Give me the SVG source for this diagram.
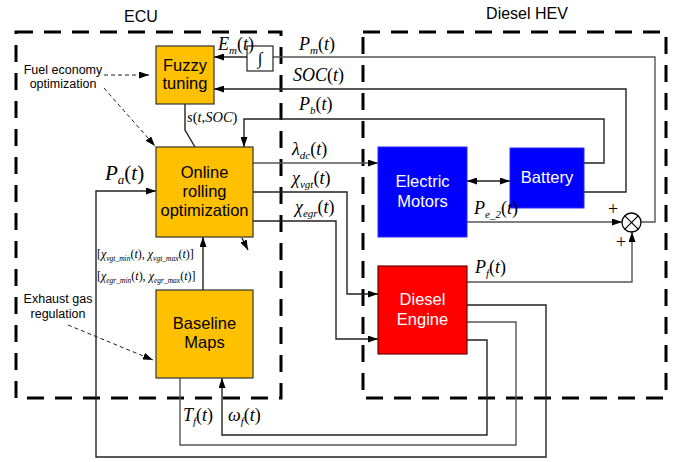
<svg xmlns="http://www.w3.org/2000/svg" width="683" height="462" viewBox="0 0 683 462">
<style>
.bg{fill:#fff}
.dash{fill:none;stroke:#000;stroke-width:3;stroke-dasharray:17 11}
.ob{fill:#FFC000;stroke:#333;stroke-width:1.2}
.bb{fill:#0000FF;stroke:#2a2aff;stroke-width:1}
.rb{fill:#FF0000;stroke:#700000;stroke-width:1.2}
.ln{fill:none;stroke:#222;stroke-width:1.4}
.gl{fill:none;stroke:#555;stroke-width:1.4}
.da{fill:none;stroke:#222;stroke-width:1;stroke-dasharray:4 3}
.t{font-family:"Liberation Sans",Arial,sans-serif;font-size:16.5px;text-anchor:middle;fill:#000}
.w{fill:#fff}
.a{font-family:"Liberation Sans",Arial,sans-serif;font-size:12.5px;text-anchor:middle;fill:#000}
.h{font-family:"Liberation Sans",Arial,sans-serif;font-size:16px;text-anchor:middle;fill:#000}
.m{font-family:"Liberation Serif","Times New Roman",serif;font-style:italic;font-size:18px;fill:#000}
.n{font-style:normal}
.s{font-size:11px}
.k{font-family:"Liberation Serif","Times New Roman",serif;font-style:italic;font-size:12px;fill:#000}
.ks{font-size:7.5px}
</style>
<defs>
<marker id="ar" viewBox="0 0 10 7" refX="10" refY="3.5" markerWidth="10" markerHeight="7" markerUnits="userSpaceOnUse" orient="auto-start-reverse">
<path d="M0,0 L10,3.5 L0,7 z" fill="#000"/>
</marker>
</defs>
<rect class="bg" x="0" y="0" width="683" height="462"/>

<g id="ecu-frame">
<rect class="dash" x="16" y="32" width="265" height="366"/>
<text class="h" x="141" y="22">ECU</text>
</g>
<g id="hev-frame">
<rect class="dash" x="363" y="32" width="303" height="366"/>
<text class="h" x="527" y="19">Diesel HEV</text>
</g>

<g id="connectors">
<polyline class="gl" points="641,222 655,222 655,57 273,57"/>
<line class="ln" x1="247" y1="57" x2="214" y2="57" marker-end="url(#ar)"/>
<polyline class="ln" points="584,192 626,192 626,89 214,89" marker-end="url(#ar)"/>
<polyline class="ln" points="584,163 604,163 604,119 244,119 244,147" marker-end="url(#ar)"/>
<polyline class="ln" points="185,104 185,130 195,147"/>
<line class="da" x1="104" y1="75" x2="149" y2="75" marker-end="url(#ar)"/>
<line class="da" x1="104" y1="88" x2="155" y2="146" marker-end="url(#ar)"/>
<line class="da" x1="68" y1="325" x2="153" y2="360" marker-end="url(#ar)"/>
<line class="gl" x1="253" y1="163" x2="378" y2="163" marker-end="url(#ar)"/>
<polyline class="ln" points="253,192 347,192 347,294 378,294" marker-end="url(#ar)"/>
<polyline class="ln" points="253,221 336,221 336,339 378,339" marker-end="url(#ar)"/>
<line class="ln" x1="242" y1="238" x2="248" y2="250" marker-end="url(#ar)"/>
<line class="ln" x1="203" y1="290" x2="203" y2="237" marker-end="url(#ar)"/>
<polyline class="ln" points="467,305 546,305 546,457 96,457 96,191 156,191" marker-end="url(#ar)"/>
<polyline class="gl" points="180,378 180,445 516,445 516,322 467,322"/>
<polyline class="ln" points="467,340 487,340 487,435 222,435 222,378" marker-end="url(#ar)"/>
<line class="ln" x1="467" y1="181" x2="510" y2="181" marker-start="url(#ar)" marker-end="url(#ar)"/>
<line class="gl" x1="467" y1="222" x2="622" y2="222" marker-end="url(#ar)"/>
<polyline class="gl" points="467,282 632,282 632,232" marker-end="url(#ar)"/>
</g>

<g id="integrator">
<rect x="247" y="46" width="26" height="25" fill="#fff" stroke="#222" stroke-width="1.2"/>
<text x="260" y="64" font-family="Liberation Serif,serif" font-size="17" text-anchor="middle">∫</text>
</g>

<g id="sum">
<circle cx="631.5" cy="222.5" r="9.5" fill="#fff" stroke="#000" stroke-width="1.3"/>
<line x1="624.8" y1="215.8" x2="638.2" y2="229.2" stroke="#000" stroke-width="1.2"/>
<line x1="638.2" y1="215.8" x2="624.8" y2="229.2" stroke="#000" stroke-width="1.2"/>
<text class="m n" x="613" y="215" text-anchor="middle">+</text>
<text class="m n" x="621" y="248" text-anchor="middle">+</text>
</g>

<g id="fuzzy">
<rect class="ob" x="156" y="46" width="58" height="58"/>
<text class="t" x="185" y="71">Fuzzy</text>
<text class="t" x="185" y="89">tuning</text>
</g>

<g id="online">
<rect class="ob" x="156" y="147" width="97" height="90"/>
<text class="t" x="204.5" y="178">Online</text>
<text class="t" x="204.5" y="197">rolling</text>
<text class="t" x="204.5" y="216">optimization</text>
</g>

<g id="baseline">
<rect class="ob" x="156" y="290" width="97" height="88"/>
<text class="t" x="204.5" y="329">Baseline</text>
<text class="t" x="204.5" y="348">Maps</text>
</g>

<g id="motors">
<rect class="bb" x="378" y="147" width="89" height="90"/>
<text class="t w" x="422.5" y="187">Electric</text>
<text class="t w" x="422.5" y="207">Motors</text>
</g>

<g id="battery">
<rect class="bb" x="510" y="148" width="74" height="60"/>
<text class="t w" x="547" y="183">Battery</text>
</g>

<g id="engine">
<rect class="rb" x="378" y="266" width="89" height="88"/>
<text class="t w" x="422.5" y="305">Diesel</text>
<text class="t w" x="422.5" y="325">Engine</text>
</g>

<g id="annotations">
<text class="a" x="63" y="74">Fuel economy</text>
<text class="a" x="63" y="88">optimization</text>
<text class="a" x="58" y="303">Exhaust gas</text>
<text class="a" x="58" y="318">regulation</text>
</g>

<g id="labels">
<text class="m" x="218" y="50">E<tspan class="s" dy="4">m</tspan><tspan class="n" dy="-4">(</tspan>t<tspan class="n">)</tspan></text>
<text class="m" x="299" y="50">P<tspan class="s" dy="4">m</tspan><tspan class="n" dy="-4">(</tspan>t<tspan class="n">)</tspan></text>
<text class="m" x="293" y="81">SOC<tspan class="n">(</tspan>t<tspan class="n">)</tspan></text>
<text class="m" x="299" y="110">P<tspan class="s" dy="4">b</tspan><tspan class="n" dy="-4">(</tspan>t<tspan class="n">)</tspan></text>
<text class="m" x="187" y="122" style="font-size:14.5px">s<tspan class="n">(</tspan>t,SOC<tspan class="n">)</tspan></text>
<text class="m" x="292" y="155">λ<tspan class="s" dy="4">dc</tspan><tspan class="n" dy="-4">(</tspan>t<tspan class="n">)</tspan></text>
<text class="m" x="292" y="184">χ<tspan class="s" dy="4">vgt</tspan><tspan class="n" dy="-4">(</tspan>t<tspan class="n">)</tspan></text>
<text class="m" x="295" y="213">χ<tspan class="s" dy="4">egr</tspan><tspan class="n" dy="-4">(</tspan>t<tspan class="n">)</tspan></text>
<text class="m" x="105" y="180" style="font-size:21px">P<tspan class="s" dy="4" style="font-size:13px">a</tspan><tspan class="n" dy="-4">(</tspan>t<tspan class="n">)</tspan></text>
<text class="k" x="97" y="258"><tspan class="n">[</tspan>χ<tspan class="ks" dy="3">vgt_min</tspan><tspan class="n" dy="-3">(</tspan>t<tspan class="n">),</tspan> χ<tspan class="ks" dy="3">vgt_max</tspan><tspan class="n" dy="-3">(</tspan>t<tspan class="n">)]</tspan></text>
<text class="k" x="97" y="280"><tspan class="n">[</tspan>χ<tspan class="ks" dy="3">egr_min</tspan><tspan class="n" dy="-3">(</tspan>t<tspan class="n">),</tspan> χ<tspan class="ks" dy="3">egr_max</tspan><tspan class="n" dy="-3">(</tspan>t<tspan class="n">)]</tspan></text>
<text class="m" x="474" y="214">P<tspan class="s" dy="4">e_2</tspan><tspan class="n" dy="-4">(</tspan>t<tspan class="n">)</tspan></text>
<text class="m" x="475" y="273">P<tspan class="s" dy="4">f</tspan><tspan class="n" dy="-4">(</tspan>t<tspan class="n">)</tspan></text>
<text class="m" x="183" y="421">T<tspan class="s" dy="4">f</tspan><tspan class="n" dy="-4">(</tspan>t<tspan class="n">)</tspan></text>
<text class="m" x="228" y="421">ω<tspan class="s" dy="4">f</tspan><tspan class="n" dy="-4">(</tspan>t<tspan class="n">)</tspan></text>
</g>
</svg>
